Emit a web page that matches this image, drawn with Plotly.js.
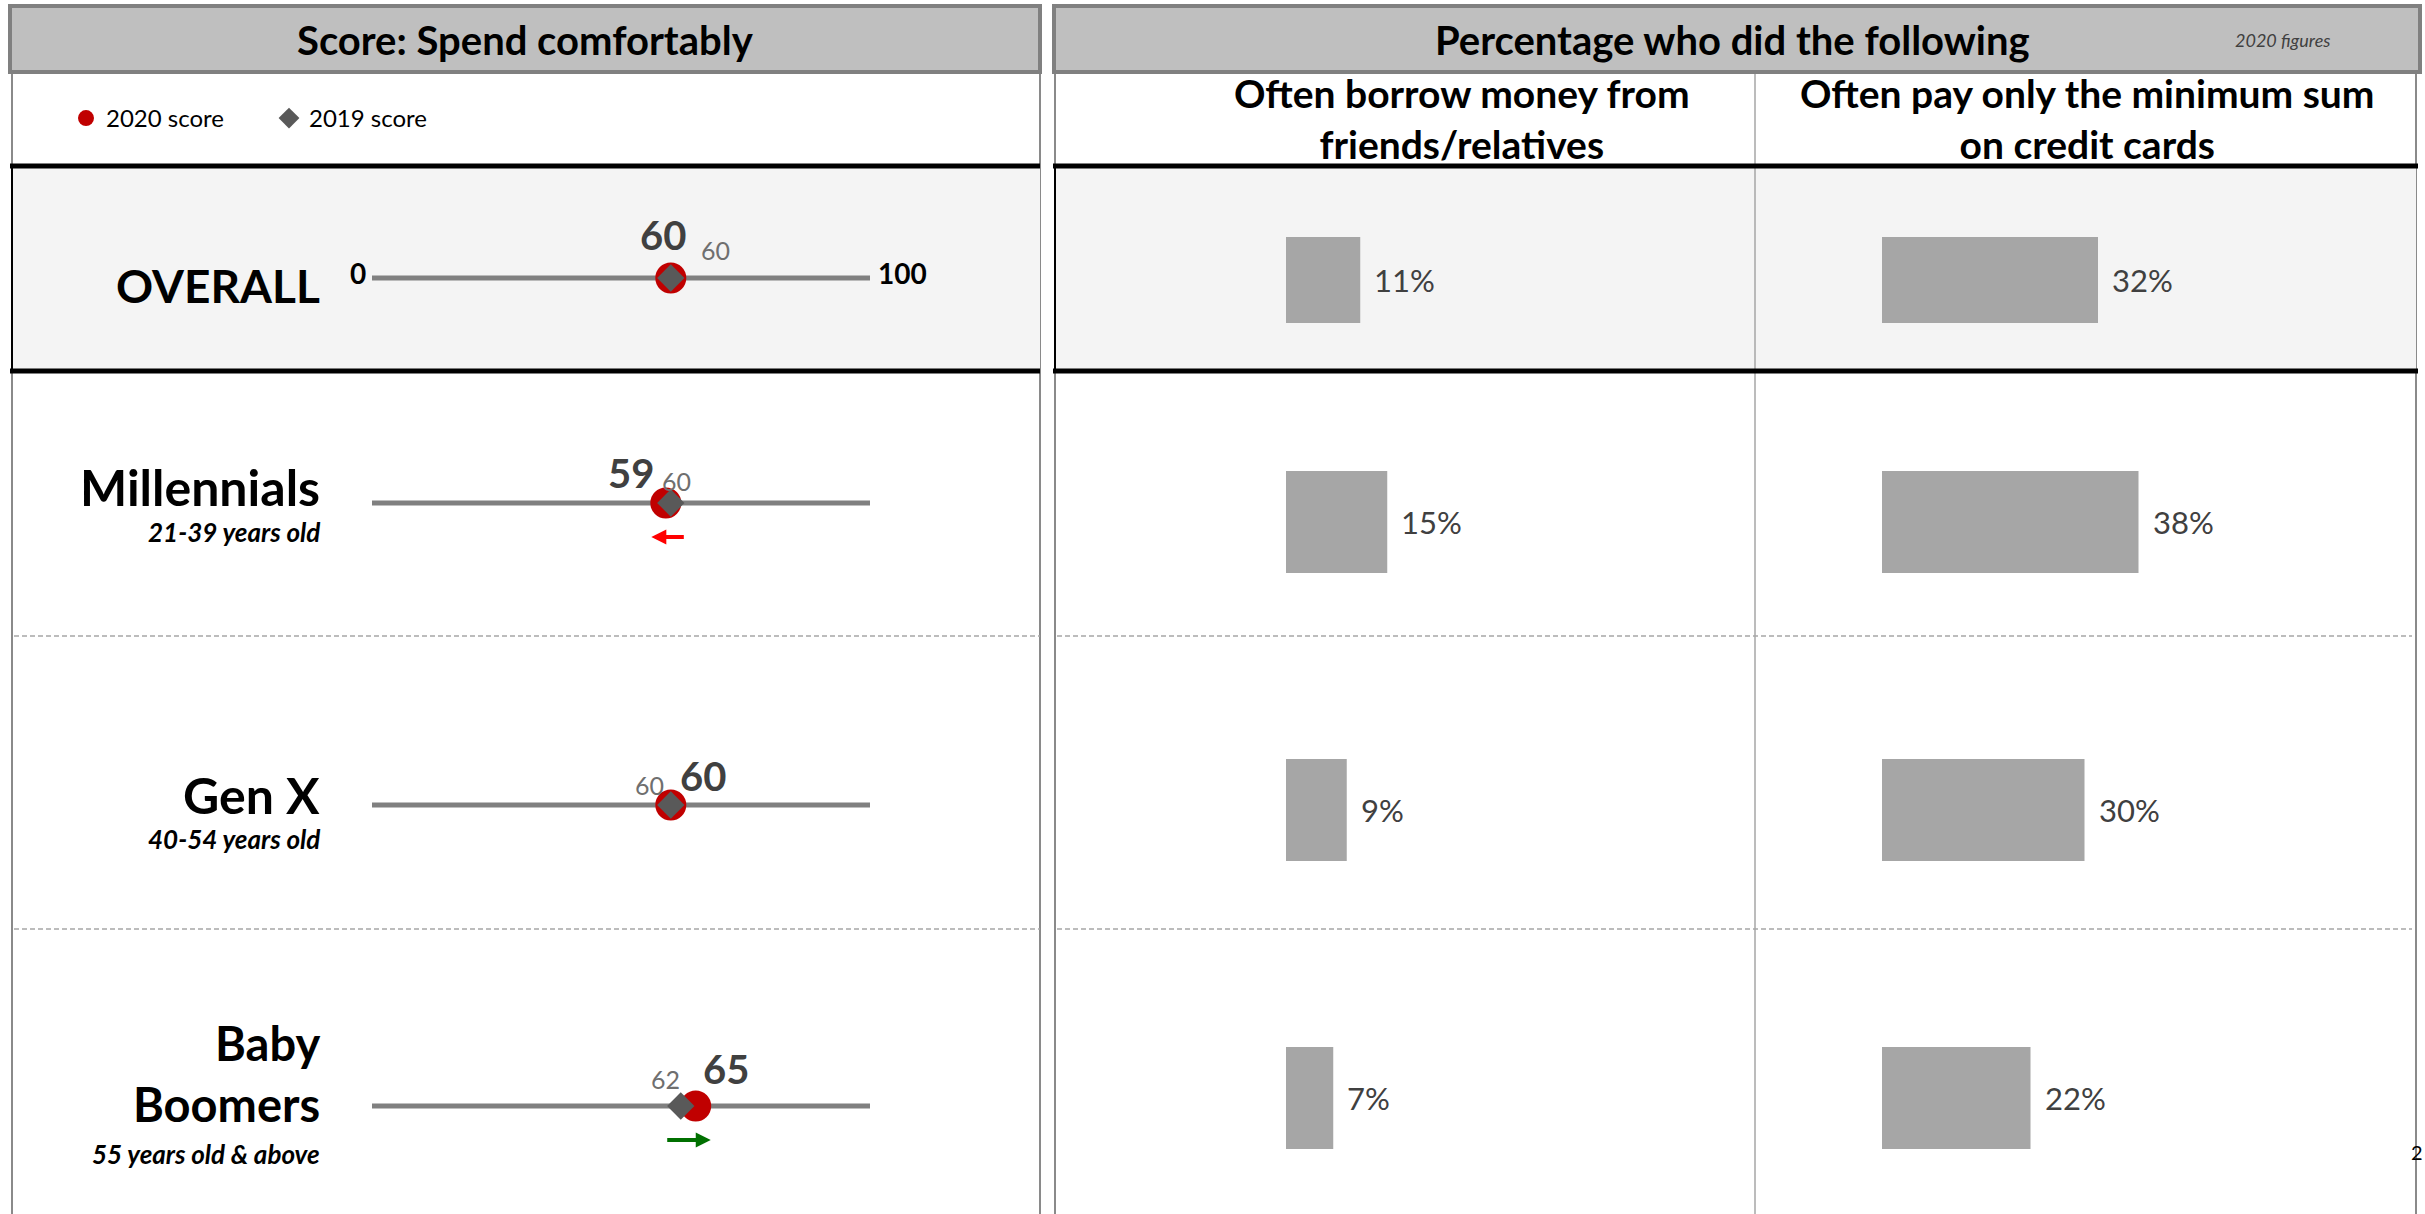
<!DOCTYPE html>
<html><head><meta charset="utf-8">
<script src="https://cdn.plot.ly/plotly-3.0.1.min.js"></script>
<style>html,body{margin:0;padding:0;background:#fff;overflow:hidden}#chart{width:2425px;height:1214px}</style>
</head><body><div id="chart"></div>
<script>
// ---------------- data ----------------
const groups = ['OVERALL', 'Millennials', 'Gen X', 'Baby Boomers'];
const groupLabels = ['OVERALL', 'Millennials', 'Gen X', 'Baby<br>Boomers'];
const ageLabels = ['', '21-39 years old', '40-54 years old', '55 years old &amp; above'];
const score2020 = [60, 59, 60, 65];
const score2019 = [60, 60, 60, 62];
const borrowPct = [11, 15, 9, 7];
const minPayPct = [32, 38, 30, 22];
const scaleEnds = [0, 100];
const scaleEndLabels = ['0', '100'];
const seriesNames = ['2020 score', '2019 score'];
const panelTitles = ['Score: Spend comfortably', 'Percentage who did the following'];
const columnTitles = ['Often borrow money from<br>friends/relatives', 'Often pay only the minimum sum<br>on credit cards'];
const noteText = '2020 figures';

// ---------------- layout helpers (style only) ----------------
const W = 2425, H = 1214;
const px = x => x / W;
const py = y => 1 - y / H;
const FONT = 'Lato, "DejaVu Sans", sans-serif';
const sliderRowY = [278, 503, 805, 1106];
const barRowY = [280, 522, 810, 1098];
const rowH = 120;
const barWidths = [0.717, 0.85, 0.85, 0.85];
// label offsets in px (style)
const lab2020 = [[-8, 43], [-35, 30], [32, 29], [30, 37]];
const lab2019 = [[45, 28], [6, 22], [-21, 20], [-15, 27]];
const groupLabelY = [285, 487, 795, 1073];
const ageLabelY = [0, 532, 839, 1154];
const groupLabelSize = [46, 50, 50, 47];

const sY = i => (i === 0 ? 'y' : 'y' + (i + 1));
const bY = i => 'y' + (i + 5);

const traces = [];
const layout = {
  width: W, height: H,
  margin: {l: 0, r: 0, t: 0, b: 0, pad: 0},
  paper_bgcolor: '#ffffff', plot_bgcolor: 'rgba(0,0,0,0)',
  font: {family: FONT, color: '#000'},
  showlegend: true,
  legend: {orientation: 'h', x: px(66), y: py(96), xanchor: 'left', yanchor: 'top',
           font: {family: FONT, size: 24, color: '#000'}, bgcolor: 'rgba(0,0,0,0)',
           itemsizing: 'trace', entrywidth: 158, entrywidthmode: 'pixels', traceorder: 'normal'},
  xaxis: {domain: [px(372), px(870)], range: [0, 100], visible: false, fixedrange: true, anchor: 'y'},
  xaxis2: {domain: [px(1286), px(1286 + 337.5)], range: [0, 50], visible: false, fixedrange: true, anchor: 'y5'},
  xaxis3: {domain: [px(1882), px(1882 + 337.5)], range: [0, 50], visible: false, fixedrange: true, anchor: 'y5'},
  shapes: [], annotations: [], hovermode: false
};

for (let i = 0; i < groups.length; i++) {
  const c = sliderRowY[i];
  layout['yaxis' + (i === 0 ? '' : i + 1)] = {domain: [py(c + rowH / 2), py(c - rowH / 2)], type: 'category',
    range: [-0.5, 0.5], visible: false, fixedrange: true, anchor: 'x'};
  const b = barRowY[i];
  layout['yaxis' + (i + 5)] = {domain: [py(b + rowH / 2), py(b - rowH / 2)], type: 'category',
    range: [-0.5, 0.5], visible: false, fixedrange: true, anchor: 'x2'};

  // slider track
  traces.push({x: scaleEnds, y: [groups[i], groups[i]], xaxis: 'x', yaxis: sY(i), mode: 'lines',
    line: {color: '#808080', width: 5}, showlegend: false, hoverinfo: 'skip'});
  // 2020 circle
  traces.push({x: [score2020[i]], y: [groups[i]], xaxis: 'x', yaxis: sY(i), mode: 'markers',
    marker: {symbol: 'circle', size: 31, color: '#C00000'}, name: seriesNames[0],
    legendgroup: 's2020', showlegend: i === 0});
  // 2019 diamond
  traces.push({x: [score2019[i]], y: [groups[i]], xaxis: 'x', yaxis: sY(i), mode: 'markers',
    marker: {symbol: 'diamond', size: 21, color: '#595959'}, name: seriesNames[1],
    legendgroup: 's2019', showlegend: i === 0});
  // bars
  traces.push({type: 'bar', orientation: 'h', x: [borrowPct[i]], y: [groups[i]], xaxis: 'x2', yaxis: bY(i),
    width: barWidths[i], marker: {color: '#A6A6A6'}, showlegend: false, hoverinfo: 'skip'});
  traces.push({type: 'bar', orientation: 'h', x: [minPayPct[i]], y: [groups[i]], xaxis: 'x3', yaxis: bY(i),
    width: barWidths[i], marker: {color: '#A6A6A6'}, showlegend: false, hoverinfo: 'skip'});

  // value labels
  layout.annotations.push({x: score2020[i], y: groups[i], xref: 'x', yref: sY(i), text: '<b>' + score2020[i] + '</b>',
    showarrow: false, xanchor: 'center', yanchor: 'middle', xshift: lab2020[i][0], yshift: lab2020[i][1],
    font: {family: FONT, size: 40, color: '#404040'}});
  layout.annotations.push({x: score2019[i], y: groups[i], xref: 'x', yref: sY(i), text: String(score2019[i]),
    showarrow: false, xanchor: 'center', yanchor: 'middle', xshift: lab2019[i][0], yshift: lab2019[i][1],
    font: {family: FONT, size: 25, color: '#6f6f6f'}});
  // bar labels
  layout.annotations.push({x: borrowPct[i], y: groups[i], xref: 'x2', yref: bY(i), text: borrowPct[i] + '%',
    showarrow: false, xanchor: 'left', yanchor: 'middle', xshift: 12, font: {family: FONT, size: 31, color: '#404040'}});
  layout.annotations.push({x: minPayPct[i], y: groups[i], xref: 'x3', yref: bY(i), text: minPayPct[i] + '%',
    showarrow: false, xanchor: 'left', yanchor: 'middle', xshift: 12, font: {family: FONT, size: 31, color: '#404040'}});

  // change arrows
  const diff = score2020[i] - score2019[i];
  if (diff !== 0) {
    const dir = diff > 0 ? 1 : -1;
    const len = dir > 0 ? 45 : 34;
    const mid = (score2020[i] + score2019[i]) / 2;
    layout.annotations.push({x: mid, y: groups[i], xref: 'x', yref: sY(i), text: '', showarrow: true,
      axref: 'pixel', ayref: 'pixel', ax: -dir * len, ay: 0, xshift: dir * len / 2, yshift: -34,
      arrowhead: 2, arrowsize: 0.75, arrowwidth: 4, arrowcolor: dir > 0 ? '#007000' : '#FF0000', standoff: 0});
  }

  // group labels
  layout.annotations.push({x: px(322), y: py(groupLabelY[i]), xref: 'paper', yref: 'paper', xanchor: 'right', yanchor: 'middle',
    text: '<b>' + groupLabels[i] + '</b>', showarrow: false, align: 'right',
    font: {family: FONT, size: groupLabelSize[i], color: '#000'}});
  if (ageLabels[i]) {
    layout.annotations.push({x: px(322), y: py(ageLabelY[i]), xref: 'paper', yref: 'paper', xanchor: 'right', yanchor: 'middle',
      text: '<b><i>' + ageLabels[i] + '</i></b>', showarrow: false, font: {family: FONT, size: 26, color: '#000'}});
  }
}

// scale end labels (overall row)
layout.annotations.push({x: scaleEnds[0], y: groups[0], xref: 'x', yref: 'y', text: '<b>' + scaleEndLabels[0] + '</b>',
  showarrow: false, xanchor: 'right', yanchor: 'middle', xshift: -4, yshift: 5, font: {family: FONT, size: 28, color: '#000'}});
layout.annotations.push({x: scaleEnds[1], y: groups[0], xref: 'x', yref: 'y', text: '<b>' + scaleEndLabels[1] + '</b>',
  showarrow: false, xanchor: 'left', yanchor: 'middle', xshift: 6, yshift: 5, font: {family: FONT, size: 28, color: '#000'}});

// headers
const centerNote = (x, y, text, size, extra) => layout.annotations.push(Object.assign({x: px(x), y: py(y),
  xref: 'paper', yref: 'paper', xanchor: 'center', yanchor: 'middle', text: text, showarrow: false,
  font: {family: FONT, size: size, color: '#000'}}, extra || {}));
centerNote(525, 40, '<b>' + panelTitles[0] + '</b>', 40);
centerNote(1733, 40, '<b>' + panelTitles[1] + '</b>', 40);
centerNote(2282, 40, '<i>' + noteText + '</i>', 18, {font: {family: FONT, size: 18, color: '#404040'}});
centerNote(1462, 118, '<b>' + columnTitles[0] + '</b>', 39);
centerNote(2087, 118, '<b>' + columnTitles[1] + '</b>', 39);
layout.annotations.push({x: 1, y: py(1152), xref: 'paper', yref: 'paper', xanchor: 'right', yanchor: 'middle', text: '2',
  showarrow: false, font: {family: FONT, size: 20, color: '#000'}});

// shapes
const S = layout.shapes;
const rect = (x0, y0, x1, y1, fill, lc, lw) => S.push({type: 'rect', xref: 'paper', yref: 'paper', layer: 'below',
  x0: px(x0), x1: px(x1), y0: py(y1), y1: py(y0), fillcolor: fill, line: {color: lc, width: lw}});
const line = (x0, y0, x1, y1, lc, lw, dash) => S.push({type: 'line', xref: 'paper', yref: 'paper', layer: 'below',
  x0: px(x0), x1: px(x1), y0: py(y0), y1: py(y1), line: {color: lc, width: lw, dash: dash || 'solid'}});
// panel side borders
line(12, 72, 12, 1214, '#8a8a8a', 2);
line(1040, 72, 1040, 1214, '#8a8a8a', 2);
line(1055, 72, 1055, 1214, '#8a8a8a', 2);
line(2416, 72, 2416, 1214, '#8a8a8a', 2);
line(1755, 72, 1755, 1214, '#a6a6a6', 1.5);
// overall highlight boxes
rect(12, 166, 1040, 371, '#F4F4F4', 'rgba(0,0,0,0)', 0);
rect(1055, 166, 2416, 371, '#F4F4F4', 'rgba(0,0,0,0)', 0);
line(1755, 166, 1755, 371, '#a6a6a6', 1.5);
line(10, 166, 1040, 166, '#000', 5); line(10, 371, 1040, 371, '#000', 5);
line(1053, 166, 2418, 166, '#000', 5); line(1053, 371, 2418, 371, '#000', 5);
line(12, 166, 12, 371, '#000', 2); line(1055, 166, 1055, 371, '#000', 2);
// dashed row separators
[636, 929].forEach(y => {
  line(14, y, 1040, y, '#a6a6a6', 1.5, '5px,3px');
  line(1057, y, 2412, y, '#a6a6a6', 1.5, '5px,3px');
});
// header boxes
rect(10, 6, 1040, 72, '#BFBFBF', '#808080', 4);
rect(1054, 6, 2420, 72, '#BFBFBF', '#808080', 4);

Plotly.newPlot('chart', traces, layout, {staticPlot: true, displayModeBar: false});
</script></body></html>
